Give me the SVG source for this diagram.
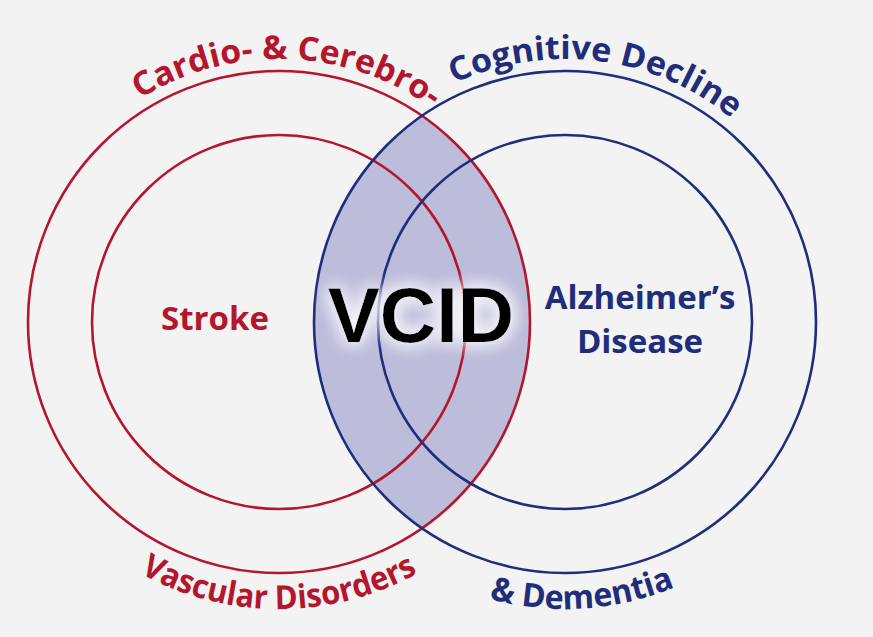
<svg xmlns="http://www.w3.org/2000/svg" width="873" height="637" viewBox="0 0 873 637">
<style>
.r{fill:none;stroke:#b3162d;stroke-width:2.6}
.b{fill:none;stroke:#1f2d7b;stroke-width:2.6}
.t{font-family:"Open Sans","Liberation Sans",sans-serif;font-weight:bold;font-size:33px}
.tr{fill:#b3162d}.tb{fill:#1f2d7b}
</style>
<defs>
<clipPath id="cr"><circle cx="279" cy="322" r="251"/></clipPath>
<filter id="glow" x="-30%" y="-50%" width="160%" height="200%">
<feGaussianBlur in="SourceAlpha" stdDeviation="9" result="b"/>
<feFlood flood-color="#ffffff"/><feComposite in2="b" operator="in" result="w"/>
<feMerge><feMergeNode in="w"/><feMergeNode in="w"/><feMergeNode in="SourceGraphic"/></feMerge>
</filter>
<path id="pTopR" d="M 16,322 A 263,263 0 0 1 542,322"/>
<path id="pTopB" d="M 302,322 A 263,263 0 0 1 828,322"/>
<path id="pBotR" d="M -8,322 A 287,287 0 0 0 566,322"/>
<path id="pBotB" d="M 278,322 A 287,287 0 0 0 852,322"/>
</defs>
<rect width="873" height="637" fill="#f3f3f3"/>
<circle cx="565" cy="322" r="251" fill="#bcbcdb" clip-path="url(#cr)"/>
<g id="red-outer"><circle class="r" cx="279" cy="322" r="251"/>
<text class="t tr"><textPath href="#pTopR" startOffset="51%" text-anchor="middle" textLength="310" lengthAdjust="spacingAndGlyphs">Cardio- &amp; Cerebro-</textPath></text>
<text class="t tr"><textPath href="#pBotR" startOffset="50%" text-anchor="middle" textLength="290" lengthAdjust="spacingAndGlyphs">Vascular Disorders</textPath></text></g>
<g id="red-inner"><circle class="r" cx="279" cy="322" r="187"/>
<text class="t tr" x="215" y="330" text-anchor="middle" font-size="32">Stroke</text></g>
<g id="blue-outer"><circle class="b" cx="565" cy="322" r="251"/>
<text class="t tb"><textPath href="#pTopB" startOffset="54%" text-anchor="middle" textLength="295" lengthAdjust="spacingAndGlyphs">Cognitive Decline</textPath></text>
<text class="t tb"><textPath href="#pBotB" startOffset="52%" text-anchor="middle" textLength="190" lengthAdjust="spacingAndGlyphs">&amp; Dementia</textPath></text></g>
<g id="blue-inner"><circle class="b" cx="565" cy="322" r="187"/>
<text class="t tb" x="640" y="309" text-anchor="middle" font-size="34">Alzheimer’s</text>
<text class="t tb" x="640" y="353" text-anchor="middle" font-size="34">Disease</text></g>
<g id="vcid"><text x="421" y="342" text-anchor="middle" font-family="Liberation Sans,Arial,sans-serif" font-weight="bold" font-size="78" fill="#000" filter="url(#glow)">VCID</text></g>
</svg>
